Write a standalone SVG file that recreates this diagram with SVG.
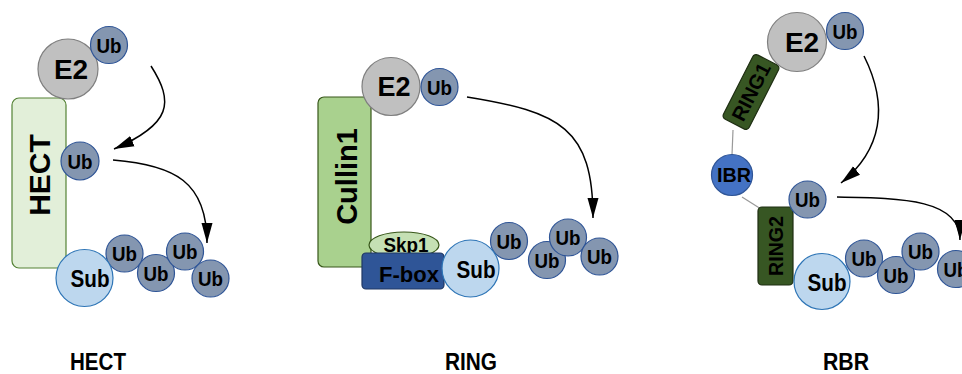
<svg xmlns="http://www.w3.org/2000/svg" width="962" height="374" viewBox="0 0 962 374">
<defs>
<marker id="ah" markerUnits="userSpaceOnUse" markerWidth="21" markerHeight="12" refX="20" refY="6" orient="auto">
<path d="M0,0.5 L20,6 L0,11.5 z" fill="#000"/>
</marker>
<style>
text{font-family:"Liberation Sans",Arial,sans-serif;font-weight:bold;text-anchor:middle;fill:#000}
.ub{fill:#8496b0;stroke:#2f5597;stroke-width:1.2}
.sub{fill:#bdd7ee;stroke:#2e75b6;stroke-width:1.2}
.e2{fill:#c0c0c0;stroke:#7f7f7f;stroke-width:1.2}
.tub{font-size:21px}
.tsub{font-size:24px}
.te2{font-size:28px}
.arr{fill:none;stroke:#000;stroke-width:1.5;marker-end:url(#ah)}
.link{stroke:#999;stroke-width:1.2;fill:none}
.lbl{font-size:23px}
.ring{fill:#375623;stroke:#1e2e12;stroke-width:1.2}
</style>
</defs>

<!-- HECT panel -->
<g id="hect">
<rect x="12" y="98" width="54" height="170" rx="7" fill="#e2efd9" stroke="#548235" stroke-width="1.2"/>
<text style="font-size:30px" transform="translate(39,175) rotate(-90)" y="11">HECT</text>
</g>
<g id="hect-e2">
<circle class="e2" cx="68" cy="69" r="30"/>
<text class="te2" x="71" y="79">E2</text>
</g>
<g id="hect-e2-ub">
<circle class="ub" cx="109" cy="45" r="18.5"/>
<text class="tub" x="109" y="52.5" textLength="25" lengthAdjust="spacingAndGlyphs">Ub</text>
</g>
<g id="hect-ub">
<circle class="ub" cx="80" cy="161" r="19"/>
<text class="tub" x="80" y="168.5" textLength="25" lengthAdjust="spacingAndGlyphs">Ub</text>
</g>
<g id="hect-chain">
<circle class="ub" cx="124.5" cy="253.5" r="18.5"/>
<text class="tub" x="124.5" y="261" textLength="25" lengthAdjust="spacingAndGlyphs">Ub</text>
<circle class="ub" cx="156" cy="273" r="18.5"/>
<text class="tub" x="156" y="280.5" textLength="25" lengthAdjust="spacingAndGlyphs">Ub</text>
<circle class="ub" cx="185" cy="251.5" r="18.5"/>
<text class="tub" x="185" y="259" textLength="25" lengthAdjust="spacingAndGlyphs">Ub</text>
<circle class="ub" cx="210.5" cy="278.5" r="18.5"/>
<text class="tub" x="210.5" y="286" textLength="25" lengthAdjust="spacingAndGlyphs">Ub</text>
</g>
<g id="hect-sub">
<circle class="sub" cx="84.5" cy="278" r="28.5"/>
<text class="tsub" x="90" y="287" textLength="39" lengthAdjust="spacingAndGlyphs">Sub</text>
</g>

<!-- RING panel -->
<g id="cullin1">
<rect x="318" y="97" width="53" height="170" rx="6" fill="#a9d18e" stroke="#38571a" stroke-width="1.2"/>
<text style="font-size:29px" transform="translate(346,176.5) rotate(-90)" y="10.5">Cullin1</text>
</g>
<g id="ring-e2">
<circle class="e2" cx="391" cy="86.5" r="29"/>
<text class="te2" style="font-size:27px" x="394" y="96">E2</text>
</g>
<g id="ring-e2-ub">
<circle class="ub" cx="439.5" cy="87" r="18.5"/>
<text class="tub" x="439.5" y="94.5" textLength="25" lengthAdjust="spacingAndGlyphs">Ub</text>
</g>
<g id="skp1">
<ellipse cx="404" cy="245" rx="35" ry="13" fill="#c5e0b4" stroke="#38571a" stroke-width="1.2"/>
<text style="font-size:20px" x="406" y="252" textLength="45" lengthAdjust="spacingAndGlyphs">Skp1</text>
</g>
<g id="fbox">
<rect x="362" y="253" width="82" height="36" rx="4" fill="#2f5597" stroke="#203864" stroke-width="1.2"/>
<text style="font-size:22px" x="409" y="282">F-box</text>
</g>
<g id="ring-chain">
<circle class="ub" cx="509" cy="241" r="18.5"/>
<text class="tub" x="509" y="248.5" textLength="25" lengthAdjust="spacingAndGlyphs">Ub</text>
<circle class="ub" cx="547" cy="260" r="18.5"/>
<text class="tub" x="547" y="267.5" textLength="25" lengthAdjust="spacingAndGlyphs">Ub</text>
<circle class="ub" cx="568" cy="237.5" r="18.5"/>
<text class="tub" x="568" y="245" textLength="25" lengthAdjust="spacingAndGlyphs">Ub</text>
<circle class="ub" cx="599.5" cy="256.5" r="18.5"/>
<text class="tub" x="599.5" y="264" textLength="25" lengthAdjust="spacingAndGlyphs">Ub</text>
</g>
<g id="ring-sub">
<circle class="sub" cx="470.5" cy="268.5" r="28.5"/>
<text class="tsub" x="476" y="277.5" textLength="39" lengthAdjust="spacingAndGlyphs">Sub</text>
</g>

<!-- connectors -->
<g id="connectors">
<path class="arr" d="M151,66 C174,102 172,124 114,149"/>
<path class="arr" d="M113,160 C175,165 207,182 207,243"/>
<path class="arr" d="M467,97 C560,112 593,128 593,218"/>
<path class="arr" d="M864,56 C889,106 882,150 841,183"/>
<path class="arr" d="M837,197 C905,198 960,200 960,240"/>
<line class="link" x1="733" y1="130" x2="732" y2="155"/>
<line class="link" x1="742" y1="197" x2="761" y2="209"/>
</g>

<!-- RBR panel -->
<g id="ring1">
<g transform="translate(751,92) rotate(-63)">
<rect x="-36" y="-14.5" width="72" height="29" rx="4" class="ring"/>
<text style="font-size:20px" x="0" y="7" textLength="62" lengthAdjust="spacingAndGlyphs">RING1</text>
</g>
</g>
<g id="rbr-e2">
<circle class="e2" cx="797" cy="42" r="29.5"/>
<text class="te2" x="802" y="52">E2</text>
</g>
<g id="rbr-e2-ub">
<circle class="ub" cx="845" cy="31" r="18.5"/>
<text class="tub" x="845" y="38.5" textLength="25" lengthAdjust="spacingAndGlyphs">Ub</text>
</g>
<g id="ibr">
<circle cx="732" cy="175" r="20.5" fill="#4472c4" stroke="#2f5597" stroke-width="1.2"/>
<text style="font-size:20px" x="734" y="182" textLength="34" lengthAdjust="spacingAndGlyphs">IBR</text>
</g>
<g id="ring2">
<rect x="758" y="207" width="35" height="78" rx="4" class="ring"/>
<text style="font-size:20px" transform="translate(775.5,246) rotate(-90)" y="7" textLength="60" lengthAdjust="spacingAndGlyphs">RING2</text>
</g>
<g id="rbr-ub">
<circle class="ub" cx="807.5" cy="199.5" r="18.5"/>
<text class="tub" x="807.5" y="207" textLength="25" lengthAdjust="spacingAndGlyphs">Ub</text>
</g>
<g id="rbr-chain">
<circle class="ub" cx="864" cy="258.5" r="18.5"/>
<text class="tub" x="864" y="266" textLength="25" lengthAdjust="spacingAndGlyphs">Ub</text>
<circle class="ub" cx="896" cy="275" r="18.5"/>
<text class="tub" x="896" y="282.5" textLength="25" lengthAdjust="spacingAndGlyphs">Ub</text>
<circle class="ub" cx="920.5" cy="251.5" r="18.5"/>
<text class="tub" x="920.5" y="259" textLength="25" lengthAdjust="spacingAndGlyphs">Ub</text>
<circle class="ub" cx="956" cy="269" r="18.5"/>
<text class="tub" x="956" y="276.5" textLength="25" lengthAdjust="spacingAndGlyphs">Ub</text>
</g>
<g id="rbr-sub">
<circle class="sub" cx="822" cy="281.5" r="28"/>
<text class="tsub" x="827" y="290.5" textLength="39" lengthAdjust="spacingAndGlyphs">Sub</text>
</g>

<!-- labels -->
<g id="labels">
<text class="lbl" x="98" y="370" textLength="56" lengthAdjust="spacingAndGlyphs">HECT</text>
<text class="lbl" x="471" y="370" textLength="52" lengthAdjust="spacingAndGlyphs">RING</text>
<text class="lbl" x="846" y="370" textLength="46" lengthAdjust="spacingAndGlyphs">RBR</text>
</g>
</svg>
